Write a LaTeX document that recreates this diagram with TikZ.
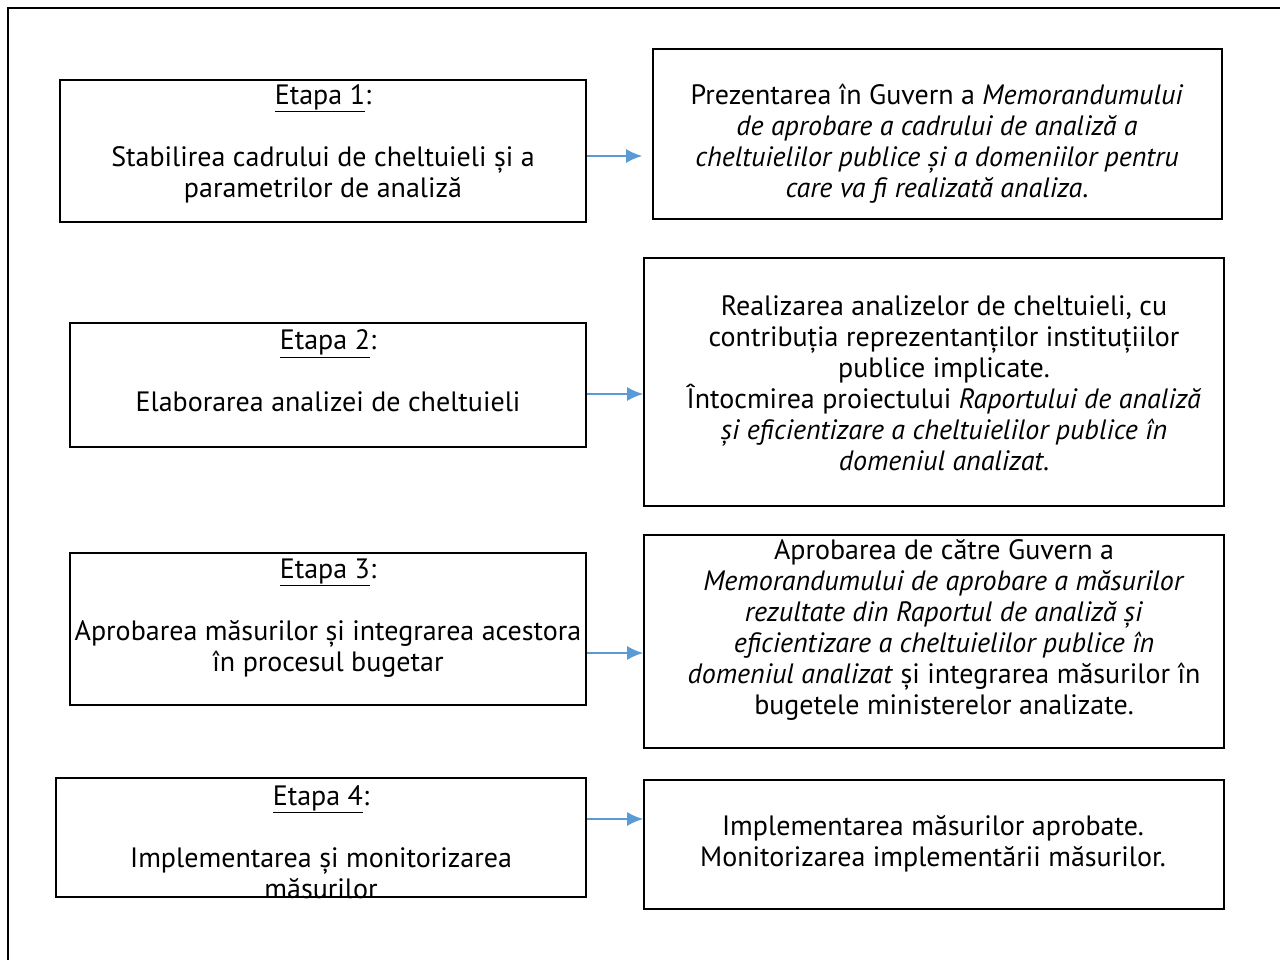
\documentclass[tikz,border=0pt]{standalone}
\usepackage{fontspec}
\setmainfont{PT Sans}
\usetikzlibrary{arrows.meta}
\definecolor{arrowblue}{HTML}{5B9BD5}
\begin{document}
\begin{tikzpicture}[x=1pt,y=-1pt,
            box/.style={draw,line width=1.6pt,inner sep=0pt},
            txt/.style={align=center,inner sep=0pt,font=\fontsize{28}{31}\selectfont},
            flow/.style={draw=arrowblue,line width=2pt,-{Latex[length=16pt,width=14pt]}}
            ]
            \useasboundingbox (0,0) rectangle (1280,960);
            \draw[line width=2pt] (8,960) -- (8,8) -- (1280,8);
            % etapele
            \node[box,minimum width=526pt,minimum height=142pt] (e1) at (323,151) {};
            \node[box,minimum width=516pt,minimum height=124pt] (e2) at (328,385) {};
            \node[box,minimum width=516pt,minimum height=152pt] (e3) at (328,629) {};
            \node[box,minimum width=530pt,minimum height=119pt] (e4) at (321,837.5) {};
            \node[txt] (e1t) at (323,144) {\underline{Etapa 1}:\\~\\Stabilirea cadrului de cheltuieli și a\\parametrilor de analiză};
            \node[txt] (e2t) at (328,371) {\underline{Etapa 2}:\\~\\Elaborarea analizei de cheltuieli};
            \node[txt] (e3t) at (328,618) {\underline{Etapa 3}:\\~\\Aprobarea măsurilor și integrarea acestora\\în procesul bugetar};
            \node[txt] (e4t) at (321,842) {\underline{Etapa 4}:\\~\\Implementarea și monitorizarea\\măsurilor};
            % activitatile
            \node[box,minimum width=569pt,minimum height=170pt] (a1) at (937.5,134) {};
            \node[box,minimum width=580pt,minimum height=248pt] (a2) at (934,382) {};
            \node[box,minimum width=580pt,minimum height=213pt] (a3) at (934,641.5) {};
            \node[box,minimum width=580pt,minimum height=129pt] (a4) at (934,844.5) {};
            \node[txt] (a1t) at (937,143.5) {Prezentarea în Guvern a \textit{Memorandumului}\\\textit{de aprobare a cadrului de analiză a}\\\textit{cheltuielilor publice și a domeniilor pentru}\\\textit{care va fi realizată analiza}.};
            \node[txt] (a2t) at (944,383) {Realizarea analizelor de cheltuieli, cu\\contribuția reprezentanților instituțiilor\\publice implicate.\\Întocmirea proiectului \textit{Raportului de analiză}\\\textit{și eficientizare a cheltuielilor publice în}\\\textit{domeniul analizat}.};
            \node[txt] (a3t) at (944,630) {Aprobarea de către Guvern a\\\textit{Memorandumului de aprobare a măsurilor}\\\textit{rezultate din Raportul de analiză și}\\\textit{eficientizare a cheltuielilor publice în}\\\textit{domeniul analizat} și integrarea măsurilor în\\bugetele ministerelor analizate.};
            \node[txt] (a4t) at (933,844) {Implementarea măsurilor aprobate.\\Monitorizarea implementării măsurilor.};
            \draw[flow,shorten >=10pt] (e1.east |- 0,156) -- (a1.west |- 0,156);
            \draw[flow] (e2.east |- 0,394) -- (a2.west |- 0,394);
            \draw[flow] (e3.east |- 0,653) -- (a3.west |- 0,653);
            \draw[flow] (e4.east |- 0,819) -- (a4.west |- 0,819);
        \end{tikzpicture}
\end{document}
